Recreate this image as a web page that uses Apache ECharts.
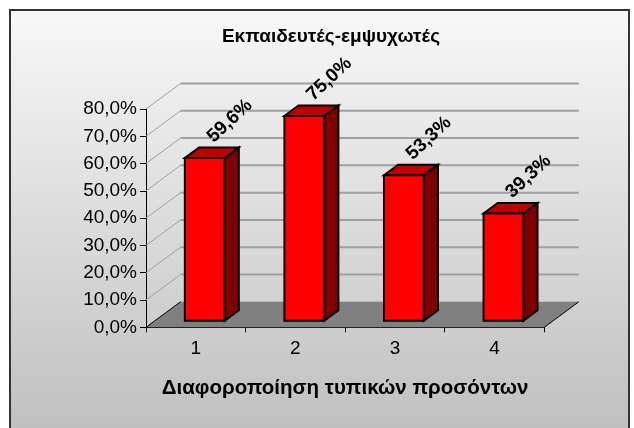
<!DOCTYPE html>
<html>
<head>
<meta charset="utf-8">
<script src="https://cdn.jsdelivr.net/npm/echarts@6/dist/echarts.min.js"></script>
<style>html,body{margin:0;padding:0;background:#fff;}#c{width:634px;height:428px;}</style>
</head>
<body>
<div id="c"></div>
<script>
const categories = ['1', '2', '3', '4'];
const values = [59.6, 75.0, 53.3, 39.3];
const yTicks = [0, 10, 20, 30, 40, 50, 60, 70, 80];
const titleText = 'Εκπαιδευτές-εμψυχωτές';
const xAxisName = 'Διαφοροποίηση τυπικών προσόντων';

const FONT = '"Liberation Sans", Arial, sans-serif';
const DX = 34.5, DY = -25.5;      // depth offset of the 3D box
const F1 = 0.26, F2 = 0.67;       // bar front / back depth fractions
const BARW = 0.4;                 // bar width as fraction of band
const LBL_DX = 25, LBL_DY = -37, LBL_ROT = 43;

function pct(v) { return v.toFixed(1).replace('.', ',') + '%'; }

const chart = echarts.init(document.getElementById('c'), null, { renderer: 'canvas' });
chart.setOption({
  animation: false,
  backgroundColor: '#ffffff',
  graphic: [{
    type: 'rect', z: -10, silent: true,
    shape: { x: 10, y: 10, width: 619, height: 440 },
    style: {
      fill: new echarts.graphic.LinearGradient(0, 0, 0, 1, [
        { offset: 0, color: '#f8f8f8' }, { offset: 1, color: '#bdbdbd' }
      ]),
      stroke: '#333333', lineWidth: 2
    }
  }],
  title: {
    text: titleText, left: 326, top: 22, textAlign: 'center',
    textStyle: { fontFamily: FONT, fontSize: 19, fontWeight: 'bold', color: '#000' }
  },
  grid: { left: 146, right: 89.7, top: 109, bottom: 100.7 },
  xAxis: {
    type: 'category', data: categories,
    axisLine: { show: true, lineStyle: { color: '#000', width: 1 } },
    axisTick: { show: true, length: 5, alignWithLabel: false, lineStyle: { color: '#000' } },
    axisLabel: { fontFamily: FONT, fontSize: 19, color: '#000', margin: 12 },
    splitLine: { show: false },
    name: xAxisName, nameLocation: 'middle', nameGap: 51,
    nameTextStyle: { fontFamily: FONT, fontSize: 20.5, fontWeight: 'bold', color: '#000' }
  },
  yAxis: {
    type: 'value', min: 0, max: 80, interval: 10,
    axisLine: { show: true, lineStyle: { color: '#000', width: 1 } },
    axisTick: { show: true, length: 6, lineStyle: { color: '#000' } },
    axisLabel: { fontFamily: FONT, fontSize: 19, color: '#000', margin: 9, formatter: v => pct(v) },
    splitLine: { show: false }
  },
  series: [
    {
      type: 'custom', coordinateSystem: 'cartesian2d', silent: true, z: 1,
      data: yTicks.map(v => [0, v]), encode: { x: 0, y: 1 },
      renderItem(params, api) {
        const cs = params.coordSys;
        const v = api.value(1);
        const y = api.coord([0, v])[1];
        const x0 = cs.x, x1 = cs.x + cs.width;
        const ch = [];
        if (v === 0) {
          ch.push({ type: 'polygon', shape: { points: [[x0, y], [x1, y], [x1 + DX, y + DY], [x0 + DX, y + DY]] },
                    style: { fill: '#808080' } });
          ch.push({ type: 'line', shape: { x1: x0, y1: y, x2: x0 + DX, y2: y + DY }, style: { stroke: '#000', lineWidth: 1 } });
          ch.push({ type: 'line', shape: { x1: x1, y1: y, x2: x1 + DX, y2: y + DY }, style: { stroke: '#000', lineWidth: 1 } });
        } else {
          ch.push({ type: 'line', shape: { x1: x0 + DX, y1: y + DY, x2: x1 + DX, y2: y + DY }, style: { stroke: '#a0a0a0', lineWidth: 2 } });
          ch.push({ type: 'line', shape: { x1: x0, y1: y, x2: x0 + DX, y2: y + DY }, style: { stroke: '#a0a0a0', lineWidth: 1 } });
        }
        return { type: 'group', children: ch };
      }
    },
    {
      type: 'custom', coordinateSystem: 'cartesian2d', z: 3,
      data: values.map((v, i) => [i, v]), encode: { x: 0, y: 1 },
      renderItem(params, api) {
        const i = api.value(0), v = api.value(1);
        const top = api.coord([i, v]);
        const base = api.coord([i, 0]);
        const bw = api.size([1, 0])[0];
        const w = bw * BARW;
        const cx = top[0] + F1 * DX;
        const yt = top[1] + F1 * DY, yb = base[1] + F1 * DY;
        const l = cx - w / 2, r = cx + w / 2;
        const ox = (F2 - F1) * DX, oy = (F2 - F1) * DY;
        const st = { stroke: '#000', lineWidth: 2, lineJoin: 'miter' };
        return {
          type: 'group',
          children: [
            { type: 'polygon', shape: { points: [[r, yt], [r + ox, yt + oy], [r + ox, yb + oy], [r, yb]] },
              style: Object.assign({ fill: '#800000' }, st) },
            { type: 'polygon', shape: { points: [[l, yt], [r, yt], [r + ox, yt + oy], [l + ox, yt + oy]] },
              style: Object.assign({ fill: '#c00000' }, st) },
            { type: 'rect', shape: { x: l, y: yt, width: w, height: yb - yt },
              style: Object.assign({ fill: '#ff0000' }, st) },
            { type: 'text', x: cx + LBL_DX, y: yt + LBL_DY, rotation: LBL_ROT * Math.PI / 180,
              style: { text: pct(v), fontFamily: FONT, fontSize: 19, fontWeight: 'bold', fill: '#000',
                       align: 'center', verticalAlign: 'middle' } }
          ]
        };
      }
    }
  ]
});
</script>
</body>
</html>
